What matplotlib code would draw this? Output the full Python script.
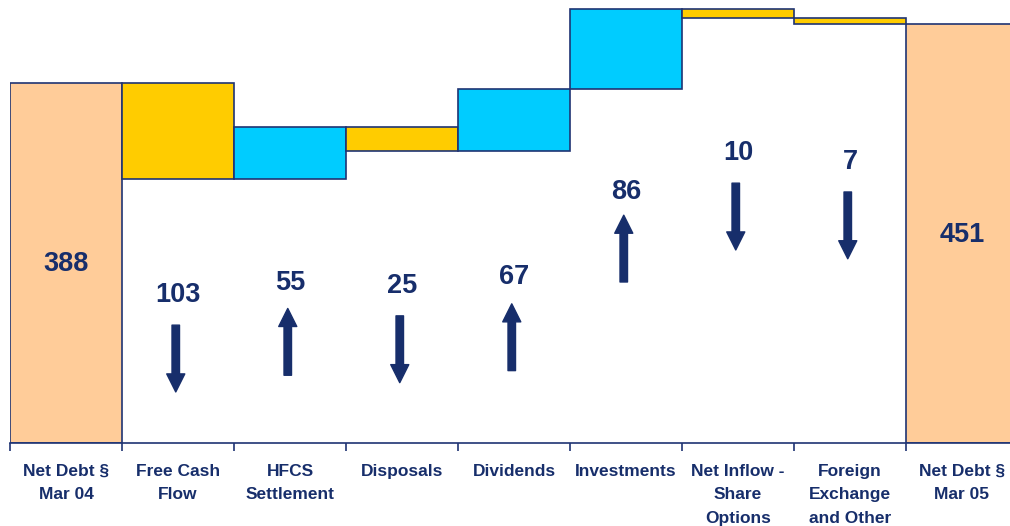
import matplotlib.pyplot as plt
import numpy as np

plt.rcParams['font.family'] = ['Liberation Sans', 'DejaVu Sans']

# net debt bridge, Mar 04 -> Mar 05
categories = ['Net Debt §\nMar 04', 'Free Cash\nFlow', 'HFCS\nSettlement', 'Disposals',
              'Dividends', 'Investments', 'Net Inflow -\nShare\nOptions',
              'Foreign\nExchange\nand Other', 'Net Debt §\nMar 05']
opening = 388
changes = [-103, 55, -25, 67, 86, -10, -7]
closing = 451

navy = '#172E6B'
edge = '#1F3473'
peach = '#FFCC99'
yellow = '#FFCC00'
cyan = '#00CCFF'

fig = plt.figure(figsize=(10.10, 5.26), dpi=100)
ax = fig.add_axes([10 / 1010, 83 / 526, 1008 / 1010, 443 / 526])

x = np.arange(len(categories))

# running totals for the floating bars
levels = opening + np.concatenate([[0], np.cumsum(changes)])
starts = levels[:-1]
ends = levels[1:]

ax.bar(0, opening, width=1, color=peach, edgecolor=edge, linewidth=1.2)
ax.bar(len(categories) - 1, closing, width=1, color=peach, edgecolor=edge, linewidth=1.2)
for i, (s, e, c) in enumerate(zip(starts, ends, changes)):
    ax.bar(i + 1, abs(c), bottom=min(s, e), width=1,
           color=cyan if c > 0 else yellow, edgecolor=edge, linewidth=1.2)

# value labels and direction arrows
label_y = [193, 159.5, 172, 169, 179, 270, 312.5, 303, 224]
values = [opening] + [abs(c) for c in changes] + [closing]
for i, (v, ly) in enumerate(zip(values, label_y)):
    ax.text(i, ly, str(v), ha='center', va='center', fontsize=19.5,
            fontweight='bold', color=navy)

arrow_tail = [127, 73, 137, 78, 173.5, 280, 270.5]
arrow_len = 72
for i, (c, t) in enumerate(zip(changes, arrow_tail)):
    head = t + arrow_len if c > 0 else t - arrow_len
    ax.annotate('', xy=(i + 1 - 0.02, head), xytext=(i + 1 - 0.02, t),
                arrowprops=dict(arrowstyle='simple,head_length=0.65,head_width=0.65,tail_width=0.27',
                                mutation_scale=20, color=navy, shrinkA=0, shrinkB=0))

ax.set_xlim(-0.5, len(categories) - 0.5)
ax.set_ylim(0, 443 / 0.928)

ax.set_xticks(x)
ax.set_xticklabels(categories, fontsize=12.5, fontweight='bold', color=navy,
                   linespacing=1.72, va='top')
ax.set_xticks(np.arange(len(categories) + 1) - 0.5, minor=True)
ax.tick_params(axis='x', which='major', length=0, pad=15)
ax.tick_params(axis='x', which='minor', length=6, width=1.2, color=edge, direction='out')
ax.set_yticks([])

for side in ['left', 'right', 'top']:
    ax.spines[side].set_visible(False)
ax.spines['bottom'].set_color(edge)
ax.spines['bottom'].set_linewidth(1.2)

fig.savefig('out.png', dpi=100)
